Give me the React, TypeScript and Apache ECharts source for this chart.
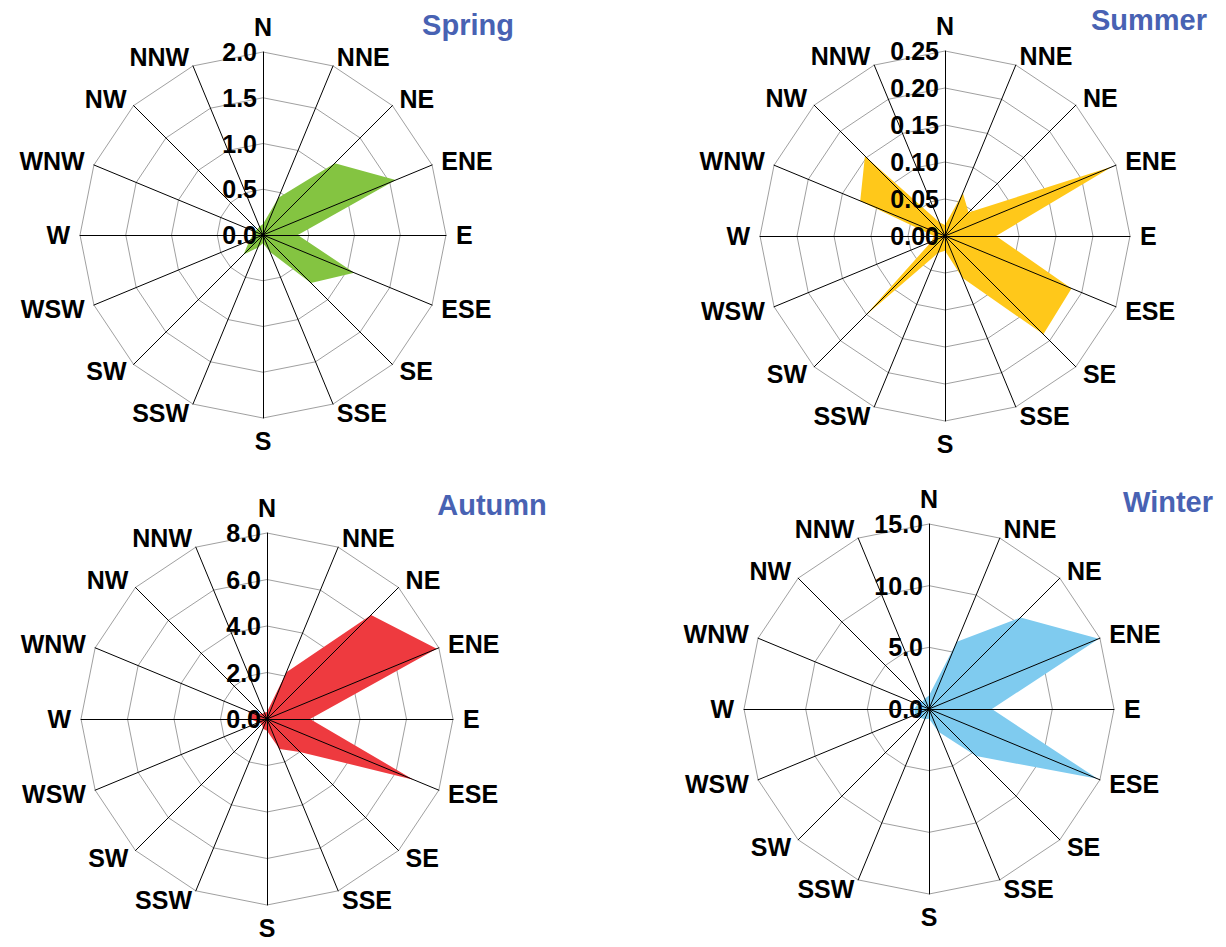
import React, { useEffect, useRef } from 'react';
import * as echarts from 'echarts';

// Compass directions, clockwise from north
const directions = ['N', 'NNE', 'NE', 'ENE', 'E', 'ESE', 'SE', 'SSE', 'S', 'SSW', 'SW', 'WSW', 'W', 'WNW', 'NW', 'NNW'];

// Values per direction (same order as `directions`)
const springValues = [0.12, 0.44, 1.11, 1.57, 0.38, 1.08, 0.74, 0.2, 0.09, 0.15, 0.3, 0.16, 0.11, 0.1, 0.09, 0.1];
const summerValues = [0.015, 0.063, 0.045, 0.245, 0.069, 0.185, 0.188, 0.061, 0.02, 0.025, 0.155, 0.02, 0.015, 0.124, 0.153, 0.02];
const autumnValues = [0.3, 2.18, 6.33, 7.9, 1.85, 6.82, 2.0, 1.4, 0.5, 0.45, 0.3, 0.4, 0.7, 0.87, 0.3, 0.3];
const winterValues = [1.1, 5.9, 10.5, 14.9, 5.1, 14.8, 5.4, 2.0, 0.8, 0.9, 1.0, 1.2, 1.2, 1.0, 0.8, 0.9];

const seasonTitles = ['Spring', 'Summer', 'Autumn', 'Winter'];
const seasonValues = [springValues, summerValues, autumnValues, winterValues];
const axisMax = [2.0, 0.25, 8.0, 15.0];
const axisSplits = [4, 5, 4, 3];
const labelDecimals = [1, 2, 1, 1];
const seasonColors = ['#84C441', '#FFC81A', '#EE3A3F', '#7FCBEF'];

// layout
const centers = [[263, 235], [945, 236], [267, 719], [929, 709]];
const radii = [183, 185, 186, 185];
const titlePos = [[468, 25], [1149, 20], [492, 505], [1168, 502]];

const FONT = '"Liberation Sans", Arial, sans-serif';

// ECharts radar places indicators counter-clockwise; reorder to get clockwise compass
const ccwOrder = directions.map((_, k) => (k === 0 ? 0 : directions.length - k));

export default function App() {
  const ref = useRef<HTMLDivElement>(null);
  useEffect(() => {
    document.body.style.margin = '0';
    const chart = echarts.init(ref.current!, null, { renderer: 'svg' });
    const radar: any[] = [];
    const series: any[] = [];
    seasonTitles.forEach((t, i) => {
      // base radar: rings only
      radar.push({
        center: centers[i],
        radius: radii[i],
        startAngle: 90,
        splitNumber: axisSplits[i],
        shape: 'polygon',
        z: 0,
        indicator: ccwOrder.map((d) => ({ name: directions[d], min: 0, max: axisMax[i] })),
        axisName: { show: false },
        splitLine: { lineStyle: { color: '#a0a0a0', width: 1 } },
        splitArea: { show: false },
        axisLine: { show: false },
        axisTick: { show: false },
        axisLabel: { show: false },
      });
      // overlay radar: spokes, names, tick labels
      radar.push({
        center: centers[i],
        radius: radii[i],
        startAngle: 90,
        splitNumber: axisSplits[i],
        shape: 'polygon',
        z: 5,
        nameGap: 10,
        indicator: ccwOrder.map((d, k) => {
          const o: any = { name: directions[d], min: 0, max: axisMax[i] };
          if (k === 0) o.axisLabel = { show: true };
          return o;
        }),
        axisName: { color: '#000', fontSize: 25, fontWeight: 'bold', fontFamily: FONT },
        splitLine: { show: false },
        splitArea: { show: false },
        axisLine: { lineStyle: { color: '#000', width: 1 } },
        axisTick: { show: false },
        axisLabel: {
          show: false,
          formatter: (v: number) => Number(v).toFixed(labelDecimals[i]),
          color: '#000',
          fontSize: 25,
          fontWeight: 'bold',
          fontFamily: FONT,
          margin: 6,
        },
      });
      series.push({
        type: 'radar',
        radarIndex: i * 2,
        z: 2,
        symbol: 'none',
        data: [
          {
            value: ccwOrder.map((d) => seasonValues[i][d]),
            name: t,
            lineStyle: { width: 0, color: seasonColors[i] },
            areaStyle: { color: seasonColors[i], opacity: 1 },
          },
        ],
      });
    });
    chart.setOption({
      animation: false,
      backgroundColor: '#ffffff',
      radar,
      series,
      graphic: seasonTitles.map((t, i) => ({
        type: 'text',
        x: titlePos[i][0],
        y: titlePos[i][1],
        z: 10,
        style: {
          text: t,
          fill: '#4862B3',
          font: `bold 29px ${FONT}`,
          textAlign: 'center',
          textVerticalAlign: 'middle',
        },
      })),
    });
    return () => chart.dispose();
  }, []);
  return <div ref={ref} style={{ width: 1226, height: 947 }} />;
}
